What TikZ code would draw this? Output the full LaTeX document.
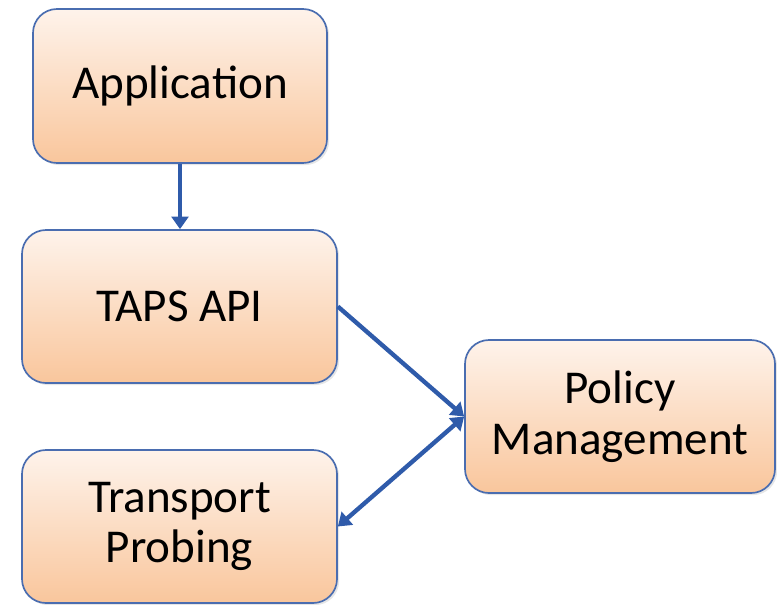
\documentclass[tikz,border=0pt]{standalone}
\usepackage{fontspec}
\setmainfont{Carlito}
\usetikzlibrary{arrows.meta,shadows}

\definecolor{boxline}{HTML}{4A6DB0}
\definecolor{boxtop}{HTML}{FEF3EB}
\definecolor{boxbottom}{HTML}{F9C69C}
\definecolor{arrowblue}{HTML}{2F5BAA}

\tikzset{
  block/.style={draw=boxline, line width=1.2pt, rounded corners=0.6cm,
    top color=boxtop, bottom color=boxbottom, align=center,
    font=\fontsize{33.5}{36}\selectfont,
    drop shadow={opacity=0.2, shadow xshift=1.5pt, shadow yshift=-1.5pt}},
  link/.style={draw=arrowblue, line width=3.1pt,
    -{Triangle[length=9pt, width=12pt]}}
}

\begin{document}
\begin{tikzpicture}
                    \useasboundingbox (0,0) rectangle (19.425,-15.125);
                    % blocks, positions taken from the original layout
                    \node[block, minimum width=7.35cm, minimum height=3.85cm] (app) at (4.5,-2.15) {Application};
                    \node[block, minimum width=7.875cm, minimum height=3.825cm] (taps) at (4.4875,-7.6625) {TAPS API};
                    \node[block, minimum width=7.875cm, minimum height=3.825cm] (probe) at (4.4875,-13.1625) {Transport\\Probing};
                    \node[block, minimum width=7.75cm, minimum height=3.825cm] (policy) at (15.5,-10.4125) {Policy\\Management};
                    % connectors
                    \draw[link] (app.south) -- (app.south |- taps.north);
                    \draw[link] (taps.east) -- (policy.west);
                    \draw[link, {Triangle[length=9pt, width=12pt]}-{Triangle[length=9pt, width=12pt]}] (policy.west) -- (probe.east);
                \end{tikzpicture}
\end{document}
